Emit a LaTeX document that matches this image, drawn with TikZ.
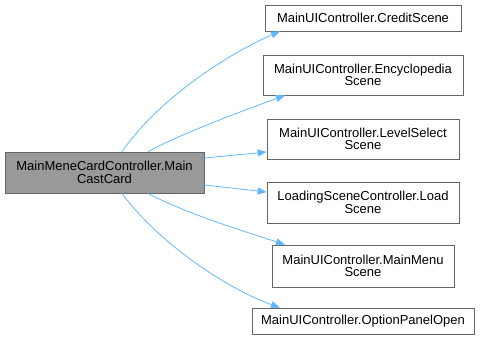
\documentclass[tikz,border=0pt]{standalone}
\usepackage{fontspec}
\setmainfont{Liberation Sans}
\usetikzlibrary{arrows.meta}
\definecolor{edgeblue}{HTML}{63B8FF}
\definecolor{boxline}{HTML}{666666}
\definecolor{srcfill}{HTML}{999999}
\begin{document}
\begin{tikzpicture}[x=1pt,y=-1pt,
  box/.style={draw=boxline,line width=0.8pt,fill=white,inner sep=0pt,align=center,
    font=\fontsize{13}{12.6}\selectfont},
  srcbox/.style={box,fill=srcfill},
  edge/.style={draw=edgeblue,line width=0.8pt,-{Triangle[length=9pt,width=7pt]}}]
\useasboundingbox (0,0) rectangle (481,343);

\node[srcbox,minimum width=199pt,minimum height=41pt] (src) at (104.5,172.5)
  {MainMeneCardController.Main\\CastCard};

\node[box,minimum width=196pt,minimum height=26pt] (credit) at (363,18)
  {MainUIController.CreditScene};
\node[box,minimum width=200pt,minimum height=40pt] (ency) at (363,75)
  {MainUIController.Encyclopedia\\Scene};
\node[box,minimum width=192pt,minimum height=40pt] (level) at (363,139)
  {MainUIController.LevelSelect\\Scene};
\node[box,minimum width=192pt,minimum height=41pt] (load) at (363,202.5)
  {LoadingSceneController.Load\\Scene};
\node[box,minimum width=182pt,minimum height=42pt] (menu) at (363,266)
  {MainUIController.MainMenu\\Scene};
\node[box,minimum width=222pt,minimum height=26pt] (option) at (363,321)
  {MainUIController.OptionPanelOpen};

\draw[edge] ([xshift=17.5pt]src.north) .. controls (160,97) and (230,53) .. ([xshift=-83pt]credit.south);
\draw[edge] ([xshift=43.5pt]src.north) .. controls (185,132) and (240,112) .. ([xshift=-78pt]ency.south);
\draw[edge] ([yshift=14.5pt]src.east) -- ([yshift=-13pt]level.west);
\draw[edge] ([yshift=-12.5pt]src.east) -- ([yshift=10.5pt]load.west);
\draw[edge] ([xshift=43.5pt]src.south) .. controls (185,213) and (240,230) .. ([xshift=-78pt]menu.north);
\draw[edge] ([xshift=17.5pt]src.south) .. controls (160,245) and (230,290) .. ([xshift=-83pt]option.north);
\end{tikzpicture}
\end{document}
